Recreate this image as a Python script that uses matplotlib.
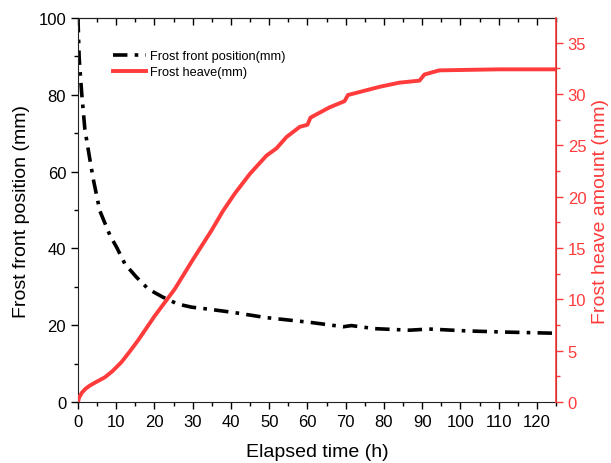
import numpy as np
import matplotlib
matplotlib.use("Agg")
from matplotlib import pyplot as plt
from matplotlib.ticker import MultipleLocator

# frost front position (left axis)
t_front = [0, 0.05, 0.1, 0.3, 0.5, 1.0, 1.8, 3.0, 4.0, 5.7, 8.4, 10.1, 12.3, 15.3,
           18.4, 22.2, 26.1, 29.7, 34.0, 40.8, 49.0, 61.0, 69.4, 71.5, 77.6, 86.7,
           91.8, 102.0, 112.0, 125.0]
front = [100, 98.0, 96.4, 89.8, 86.7, 80.0, 71.0, 63.8, 58.0, 49.8, 43.3, 40.3, 35.9,
         32.5, 29.4, 27.3, 25.5, 24.7, 24.2, 23.3, 22.0, 20.7, 19.6, 19.9, 19.1,
         18.7, 19.0, 18.5, 18.2, 17.9]

# frost heave (right axis)
t_heave = [0, 0.3, 1.0, 2.0, 3.1, 5.0, 7.0, 9.0, 11.4, 13.5, 15.7, 20.1, 25.3, 30.1,
           34.9, 37.9, 41.0, 44.9, 49.3, 51.9, 54.5, 58.0, 60.0, 60.8, 65.8, 69.7,
           70.6, 78.9, 84.0, 89.3, 90.6, 94.5, 110.0, 124.5]
heave = [0, 0.45, 0.9, 1.3, 1.6, 2.0, 2.4, 3.0, 3.9, 4.9, 6.0, 8.4, 11.0, 13.9,
         16.7, 18.6, 20.3, 22.2, 24.0, 24.7, 25.8, 26.8, 27.0, 27.7, 28.7, 29.3,
         29.9, 30.7, 31.1, 31.3, 31.9, 32.3, 32.4, 32.4]

plt.rcParams['font.family'] = ['Liberation Sans', 'DejaVu Sans']
red = '#ff3b3b'

fig = plt.figure(figsize=(6.11, 4.64), dpi=100)
ax = fig.add_axes([78 / 611, 61 / 464, 478 / 611, 384 / 464])
ax2 = ax.twinx()

ln1, = ax.plot(t_front, front, color='black', lw=2.6, dashes=(4, 2, 1, 2),
               label='Frost front position(mm)')
ln2, = ax2.plot(t_heave, heave, color=red, lw=2.8, label='Frost heave(mm)')

ax.set_xlim(0, 125)
ax.set_ylim(0, 100)
ax2.set_ylim(0, 37.4)
ax.xaxis.set_major_locator(MultipleLocator(10))
ax.xaxis.set_minor_locator(MultipleLocator(5))
ax.yaxis.set_major_locator(MultipleLocator(20))
ax.yaxis.set_minor_locator(MultipleLocator(10))
ax2.yaxis.set_major_locator(MultipleLocator(5))
ax2.yaxis.set_minor_locator(MultipleLocator(2.5))

# bottom ticks point out, top ticks point in
ax.tick_params(axis='x', which='both', direction='out', labelsize=12, width=1)
ax.tick_params(axis='x', which='major', length=5)
ax.tick_params(axis='x', which='minor', length=3)
ax.tick_params(axis='y', which='major', direction='out', length=5, width=1, labelsize=12)
ax.tick_params(axis='y', which='minor', direction='out', length=3, width=1)
top = ax.secondary_xaxis('top')
top.xaxis.set_major_locator(MultipleLocator(10))
top.xaxis.set_minor_locator(MultipleLocator(5))
top.tick_params(which='both', direction='in', labeltop=False, width=1)
top.tick_params(which='major', length=5)
top.tick_params(which='minor', length=3)
top.spines['top'].set_color('#222222')

ax2.tick_params(axis='y', which='major', colors=red, length=5, width=1, labelsize=12)
ax2.tick_params(axis='y', which='minor', colors=red, length=3, width=1)

for s in ['left', 'bottom', 'top']:
    ax.spines[s].set_color('#222222')
ax2.spines['right'].set_color(red)
ax2.spines['right'].set_linewidth(1.2)
for s in ['left', 'bottom', 'top']:
    ax2.spines[s].set_visible(False)

ax.set_xlabel('Elapsed time (h)', fontsize=14, labelpad=10)
ax.set_ylabel('Frost front position (mm)', fontsize=14, labelpad=6)
ax2.set_ylabel('Frost heave amount (mm)', fontsize=14, color=red, labelpad=4)

ax.legend(handles=[ln1, ln2], loc='upper left', bbox_to_anchor=(0.055, 0.94),
          frameon=False, fontsize=9.2, handlelength=2.6, handletextpad=0.3,
          labelspacing=0.35, borderpad=0.2)

fig.savefig('out.png', dpi=100)
